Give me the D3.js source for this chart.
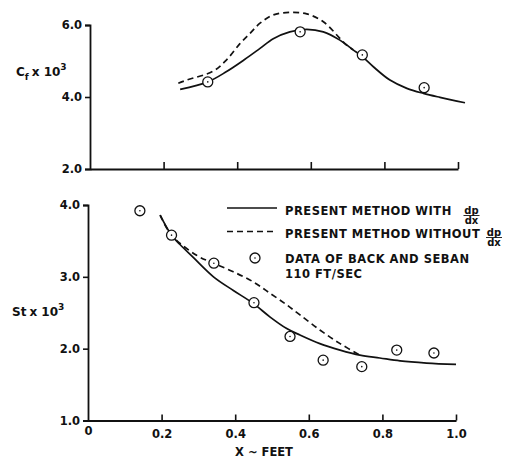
<!DOCTYPE html>
<html>
<head>
<meta charset="utf-8">
<script src="https://cdn.jsdelivr.net/npm/d3@7"></script>
<style>
  html, body { margin: 0; padding: 0; background: #fff; }
  svg { display: block; }
  text { font-family: "DejaVu Sans", sans-serif; font-weight: bold; fill: #111; }
</style>
</head>
<body>
<svg id="chart" width="505" height="461"></svg>
<script>
// Skin friction coefficient (upper panel)
const cfDataX = [0.32, 0.571, 0.74, 0.908];
const cfDataY = [4.42, 5.81, 5.17, 4.26];
const cfWithX = [0.245, 0.32, 0.37, 0.42, 0.462, 0.498, 0.543, 0.589, 0.634, 0.679, 0.715, 0.74, 0.77, 0.815, 0.861, 0.906, 0.951, 1.019];
const cfWithY = [4.21, 4.42, 4.70, 5.04, 5.35, 5.62, 5.81, 5.88, 5.81, 5.58, 5.31, 5.12, 4.84, 4.47, 4.24, 4.10, 3.99, 3.84];
const cfWithoutX = [0.24, 0.263, 0.335, 0.371, 0.408, 0.435, 0.462, 0.498, 0.543, 0.589, 0.634, 0.679, 0.697, 0.715];
const cfWithoutY = [4.38, 4.47, 4.72, 5.03, 5.49, 5.77, 6.05, 6.28, 6.35, 6.31, 6.09, 5.63, 5.44, 5.31];

// Stanton number (lower panel)
const stDataX = [0.141, 0.227, 0.342, 0.451, 0.549, 0.639, 0.744, 0.839, 0.94];
const stDataY = [3.92, 3.58, 3.19, 2.64, 2.17, 1.84, 1.75, 1.98, 1.94];
const stWithX = [0.196, 0.227, 0.25, 0.286, 0.341, 0.395, 0.449, 0.495, 0.54, 0.576, 0.63, 0.685, 0.739, 0.793, 0.848, 0.92, 1.0];
const stWithY = [3.86, 3.58, 3.45, 3.27, 3.00, 2.81, 2.63, 2.44, 2.28, 2.19, 2.07, 1.98, 1.91, 1.87, 1.83, 1.80, 1.78];
const stWithoutX = [0.196, 0.227, 0.295, 0.341, 0.395, 0.449, 0.495, 0.54, 0.576, 0.63, 0.685, 0.739];
const stWithoutY = [3.86, 3.58, 3.30, 3.19, 3.07, 2.93, 2.77, 2.61, 2.47, 2.26, 2.07, 1.91];

// Tick values
const xTicks = [0, 0.2, 0.4, 0.6, 0.8, 1.0];
const cfTicks = [2, 4, 6];
const stTicks = [1, 2, 3, 4];

const legendLabels = ["PRESENT METHOD WITH", "PRESENT METHOD WITHOUT", "DATA OF BACK AND SEBAN", "110 FT/SEC"];

const svg = d3.select("#chart");
const ink = "#111";

const xTop = d3.scaleLinear().domain([0, 1]).range([90, 458]);
const yTop = d3.scaleLinear().domain([2, 6]).range([169, 25]);
const xBot = d3.scaleLinear().domain([0, 1]).range([88, 456]);
const yBot = d3.scaleLinear().domain([1, 4]).range([420.5, 205]);

function styleAxis(g) {
  g.select(".domain").attr("stroke", ink).attr("stroke-width", 1.8);
  g.selectAll(".tick line").attr("stroke", ink).attr("stroke-width", 1.6);
  g.selectAll(".tick text").attr("font-family", "DejaVu Sans, sans-serif")
    .attr("font-weight", "bold").attr("font-size", 11.5).attr("fill", ink);
}

// ---- Upper panel axes
svg.append("g").attr("transform", `translate(0,${yTop(2)})`)
  .call(d3.axisBottom(xTop).tickValues(xTicks.slice(1)).tickSizeInner(-7).tickSizeOuter(0).tickFormat(""))
  .call(styleAxis);
svg.append("g").attr("transform", `translate(${xTop(0)},0)`)
  .call(d3.axisLeft(yTop).tickValues(cfTicks).tickSize(5).tickPadding(3).tickFormat(d3.format(".1f")))
  .call(styleAxis);

// ---- Lower panel axes
const xAxisBot = svg.append("g").attr("transform", `translate(0,${yBot(1)})`)
  .call(d3.axisBottom(xBot).tickValues(xTicks).tickSizeInner(-6).tickSizeOuter(0).tickPadding(9)
    .tickFormat(d => d === 0 ? "0" : d3.format(".1f")(d)))
  .call(styleAxis);
xAxisBot.selectAll(".tick").filter(d => d === 0).select("line").remove();
xAxisBot.selectAll(".tick").filter(d => d === 0).select("text").attr("dy", "0.45em");
svg.append("g").attr("transform", `translate(${xBot(0)},0)`)
  .call(d3.axisLeft(yBot).tickValues(stTicks).tickSize(5).tickPadding(3).tickFormat(d3.format(".1f")))
  .call(styleAxis)
  .call(g => g.selectAll(".tick").filter(d => d === 1).select("line").remove());

// ---- Axis titles
function sciLabel(x, y, main, sub) {
  const t = svg.append("text").attr("x", x).attr("y", y).attr("font-size", 12);
  t.append("tspan").text(main);
  if (sub) t.append("tspan").attr("dy", 4).attr("font-size", 9).text(sub);
  t.append("tspan").attr("dy", sub ? -4 : 0).attr("dx", 3).text("x 10");
  t.append("tspan").attr("dy", -6).attr("font-size", 9).text("3");
}
sciLabel(16, 76, "C", "f");
sciLabel(12, 316, "St", null);

svg.append("text").attr("x", 264).attr("y", 456).attr("text-anchor", "middle")
  .attr("font-size", 11.5).text("X ~ FEET");

// ---- Lines
function drawLine(xs, ys, xs_, ys_, dashed) {
  const pts = xs.map((v, i) => [v, ys[i]]);
  const line = d3.line().x(d => xs_(d[0])).y(d => ys_(d[1])).curve(d3.curveCatmullRom.alpha(0.5));
  svg.append("path").datum(pts).attr("d", line)
    .attr("fill", "none").attr("stroke", ink).attr("stroke-width", 1.7)
    .attr("stroke-dasharray", dashed ? "6,4" : null);
}
drawLine(cfWithX, cfWithY, xTop, yTop, false);
drawLine(cfWithoutX, cfWithoutY, xTop, yTop, true);
drawLine(stWithX, stWithY, xBot, yBot, false);
drawLine(stWithoutX, stWithoutY, xBot, yBot, true);

// ---- Data markers (open circle with centre dot)
function drawMarkers(xs, ys, xs_, ys_) {
  const g = svg.append("g");
  const pts = xs.map((v, i) => [v, ys[i]]);
  g.selectAll("circle.o").data(pts).join("circle").attr("class", "o")
    .attr("cx", d => xs_(d[0])).attr("cy", d => ys_(d[1])).attr("r", 5)
    .attr("fill", "#fff").attr("stroke", ink).attr("stroke-width", 1.3);
  g.selectAll("circle.c").data(pts).join("circle").attr("class", "c")
    .attr("cx", d => xs_(d[0])).attr("cy", d => ys_(d[1])).attr("r", 0.8).attr("fill", ink);
}
drawMarkers(cfDataX, cfDataY, xTop, yTop);
drawMarkers(stDataX, stDataY, xBot, yBot);

// ---- Legend
const lg = svg.append("g");
lg.append("line").attr("x1", 227).attr("x2", 277).attr("y1", 208).attr("y2", 208)
  .attr("stroke", ink).attr("stroke-width", 1.7);
lg.append("line").attr("x1", 227).attr("x2", 277).attr("y1", 231.5).attr("y2", 231.5)
  .attr("stroke", ink).attr("stroke-width", 1.7).attr("stroke-dasharray", "6,4");
lg.append("circle").attr("cx", 255).attr("cy", 258).attr("r", 5)
  .attr("fill", "#fff").attr("stroke", ink).attr("stroke-width", 1.3);
lg.append("circle").attr("cx", 255).attr("cy", 258).attr("r", 0.8).attr("fill", ink);

const legY = [214.5, 238, 263, 277.5];
legendLabels.forEach((s, i) => {
  lg.append("text").attr("x", 285).attr("y", legY[i]).attr("font-size", 11.5)
    .attr("letter-spacing", 0.5).text(s);
});

function fraction(cx, yBar) {
  lg.append("text").attr("x", cx).attr("y", yBar - 2).attr("text-anchor", "middle")
    .attr("font-size", 10).text("dp");
  lg.append("line").attr("x1", cx - 8).attr("x2", cx + 8).attr("y1", yBar).attr("y2", yBar)
    .attr("stroke", ink).attr("stroke-width", 0.9);
  lg.append("text").attr("x", cx).attr("y", yBar + 8.5).attr("text-anchor", "middle")
    .attr("font-size", 10).text("dx");
}
fraction(471.5, 215.5);
fraction(494, 237.5);
</script>
</body>
</html>
